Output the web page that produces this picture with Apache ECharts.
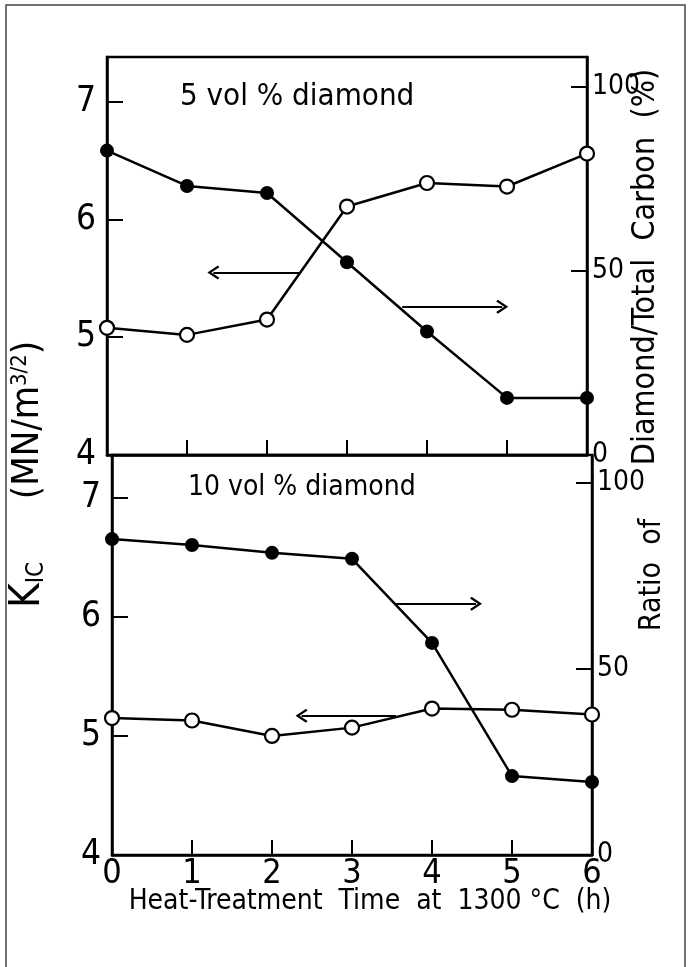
<!DOCTYPE html>
<html>
<head>
<meta charset="utf-8">
<script src="https://cdn.jsdelivr.net/npm/echarts@6/dist/echarts.min.js"></script>
<style>
  html, body { margin: 0; padding: 0; background: #fff; }
  #chart { width: 689px; height: 967px; }
</style>
</head>
<body>
<div id="chart"></div>
<script>
// heat-treatment time (h)
var hours = [0, 1, 2, 3, 4, 5, 6]
// 5 vol % diamond
var kic5 = [5.08, 5.02, 5.15, 6.11, 6.31, 6.28, 6.56]
var ratio5 = [82.6, 73.0, 71.1, 52.3, 33.5, 15.5, 15.5]
// 10 vol % diamond
var kic10 = [5.15, 5.13, 5.0, 5.07, 5.23, 5.22, 5.18]
var ratio10 = [84.9, 83.3, 81.2, 79.6, 57.0, 21.2, 19.6]
// tick labels
var kicTicks = [4, 5, 6, 7]
var ratioTicks = [0, 50, 100]
var hourTicks = [0, 1, 2, 3, 4, 5, 6]

var FONT = "'DejaVu Sans Condensed', 'Liberation Sans Narrow', 'Liberation Sans', sans-serif"

function pairs(ys) {
  return hours.map(function (h, i) { return [h, ys[i]] })
}

// thin open arrow head (tip at top)
var arrowHead = 'path://M10,0 L20,13 L17.5,15 L10,5 L2.5,15 L0,13 Z'

function arrows(list) {
  return {
    silent: true,
    animation: false,
    symbol: ['none', arrowHead],
    symbolSize: [14, 12],
    label: { show: false },
    lineStyle: { color: '#000', width: 2, type: 'solid' },
    data: list.map(function (a) {
      return [{ coord: [a[0], a[2]] }, { coord: [a[1], a[2]] }]
    })
  }
}

function xAxisOf(grid, showLabels) {
  return {
    type: 'value',
    gridIndex: grid,
    min: 0,
    max: 6,
    interval: 1,
    axisLine: { show: true, lineStyle: { color: '#000', width: 2.5 } },
    axisTick: { show: true, inside: true, length: 15, customValues: hourTicks, lineStyle: { color: '#000', width: 2 } },
    axisLabel: { show: showLabels, customValues: hourTicks, color: '#000', fontSize: 34, fontFamily: FONT, margin: 2 },
    splitLine: { show: false }
  }
}

function yAxisOf(grid, pos, max, ticks, fs) {
  return {
    type: 'value',
    gridIndex: grid,
    position: pos,
    min: ticks[0],
    max: max,
    axisLine: { show: true, lineStyle: { color: '#000', width: 2.5 } },
    axisTick: { show: true, inside: true, length: 16, customValues: ticks, lineStyle: { color: '#000', width: 2 } },
    axisLabel: { customValues: ticks, color: '#000', fontSize: fs, fontFamily: FONT, margin: pos === 'left' ? 11 : 5 },
    splitLine: { show: false }
  }
}

function filled(name, x, y, data) {
  return {
    name: name, type: 'line', xAxisIndex: x, yAxisIndex: y, data: data,
    symbol: 'circle', symbolSize: 14, showSymbol: true,
    lineStyle: { color: '#000', width: 2.5 },
    itemStyle: { color: '#000', borderColor: '#000', borderWidth: 0 },
    z: 3
  }
}

function open(name, x, y, data, marks) {
  return {
    name: name, type: 'line', xAxisIndex: x, yAxisIndex: y, data: data,
    symbol: 'circle', symbolSize: 14, showSymbol: true,
    lineStyle: { color: '#000', width: 2.5 },
    itemStyle: { color: '#fff', borderColor: '#000', borderWidth: 2.2 },
    markLine: arrows(marks),
    z: 4
  }
}

var chart = echarts.init(document.getElementById('chart'))

chart.setOption({
  animation: false,
  backgroundColor: '#fff',
  grid: [
    { left: 107, right: 102, top: 57, height: 398, show: true, borderColor: '#000', borderWidth: 2.5 },
    { left: 112, right: 97, top: 455, height: 400, show: true, borderColor: '#000', borderWidth: 2.5 }
  ],
  xAxis: [xAxisOf(0, false), xAxisOf(1, true)],
  yAxis: [
    yAxisOf(0, 'left', 7.38, kicTicks, 35),
    yAxisOf(0, 'right', 108, ratioTicks, 28),
    yAxisOf(1, 'left', 7.36, kicTicks, 35),
    yAxisOf(1, 'right', 107.5, ratioTicks, 28)
  ],
  series: [
    filled('ratio 5', 0, 1, pairs(ratio5)),
    open('KIC 5', 0, 0, pairs(kic5), [[2.42, 1.33, 5.55], [3.69, 4.94, 5.26]]),
    filled('ratio 10', 1, 3, pairs(ratio10)),
    open('KIC 10', 1, 2, pairs(kic10), [[3.55, 4.55, 6.11], [3.55, 2.37, 5.17]])
  ],
  graphic: [
    {
      type: 'rect', silent: true,
      shape: { x: 6, y: 5, width: 679, height: 1000 },
      style: { fill: 'none', stroke: '#444', lineWidth: 1.5 }
    },
    {
      type: 'text', x: 180, y: 97,
      style: { text: '5 vol % diamond', fontSize: 31, fontFamily: FONT, fill: '#000', verticalAlign: 'middle' }
    },
    {
      type: 'text', x: 188, y: 488,
      style: { text: '10 vol % diamond', fontSize: 28, fontFamily: FONT, fill: '#000', verticalAlign: 'middle' }
    },
    {
      type: 'text', x: 370, y: 902,
      style: { text: 'Heat-Treatment  Time  at  1300 °C  (h)', fontSize: 28, fontFamily: FONT, fill: '#000', align: 'center', verticalAlign: 'middle' }
    },
    {
      type: 'text', x: 28, y: 420, rotation: Math.PI / 2,
      style: {
        text: '(MN/m{sup|3/2})', fontSize: 38, fontFamily: FONT, fill: '#000', align: 'center', verticalAlign: 'middle',
        rich: { sup: { fontSize: 22, fontFamily: FONT, fill: '#000', verticalAlign: 'top', padding: [0, 0, 16, 0] } }
      }
    },
    {
      type: 'text', x: 28, y: 585, rotation: Math.PI / 2,
      style: {
        text: 'K{sub|IC}', fontSize: 42, fontFamily: FONT, fill: '#000', align: 'center', verticalAlign: 'middle',
        rich: { sub: { fontSize: 24, fontFamily: FONT, fill: '#000', verticalAlign: 'bottom', padding: [12, 0, 0, 0] } }
      }
    },
    {
      type: 'text', x: 646, y: 267, rotation: Math.PI / 2,
      style: { text: 'Diamond/Total  Carbon  (%)', fontSize: 32, fontFamily: FONT, fill: '#000', align: 'center', verticalAlign: 'middle' }
    },
    {
      type: 'text', x: 652, y: 575, rotation: Math.PI / 2,
      style: { text: 'Ratio  of', fontSize: 30, fontFamily: FONT, fill: '#000', align: 'center', verticalAlign: 'middle' }
    }
  ]
})
</script>
</body>
</html>
